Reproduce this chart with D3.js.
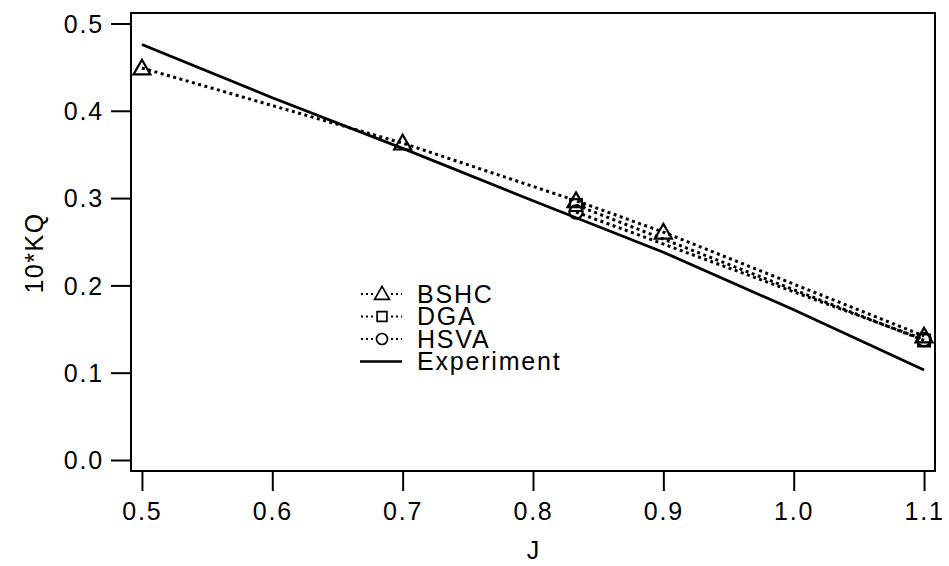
<!DOCTYPE html>
<html>
<head>
<meta charset="utf-8">
<script src="https://cdn.jsdelivr.net/npm/d3@7"></script>
<style>
  body { margin: 0; background: #fff; }
  text { font-family: "Liberation Sans", Arial, sans-serif; fill: #000; }
</style>
</head>
<body>
<div id="chart"></div>
<script>
// values
var bshcJ = [0.5, 0.7, 0.833, 0.9, 1.1];
var bshcKQ = [0.449, 0.363, 0.297, 0.261, 0.142];
var dgaJ = [0.833, 1.1];
var dgaKQ = [0.292, 0.137];
var hsvaJ = [0.833, 1.1];
var hsvaKQ = [0.284, 0.138];
var expJ = [0.5, 0.6, 0.7, 0.8, 0.9, 1.0, 1.1];
var expKQ = [0.476, 0.415, 0.357, 0.297, 0.238, 0.172, 0.103];
var xTicks = [0.5, 0.6, 0.7, 0.8, 0.9, 1.0, 1.1];
var yTicks = [0.0, 0.1, 0.2, 0.3, 0.4, 0.5];
var legendNames = ["BSHC", "DGA", "HSVA", "Experiment"];

var W = 949, H = 566;
var m = {left: 131, top: 13, right: 14, bottom: 95};
var w = W - m.left - m.right, h = H - m.top - m.bottom;

var svg = d3.select("#chart").append("svg")
    .attr("width", W)
    .attr("height", H);

var g = svg.append("g").attr("transform", "translate(" + m.left + "," + m.top + ")");

var x = d3.scaleLinear().domain([0.4916, 1.1084]).range([0, w]);
var y = d3.scaleLinear().domain([-0.0126, 0.512]).range([h, 0]);

// frame
g.append("rect")
    .attr("width", w).attr("height", h)
    .attr("fill", "none").attr("stroke", "#000").attr("stroke-width", 2);

var xAxis = g.append("g")
    .attr("transform", "translate(0," + h + ")")
    .call(d3.axisBottom(x).tickValues(xTicks).tickFormat(d3.format(".1f")).tickSize(20).tickPadding(11));
var yAxis = g.append("g")
    .call(d3.axisLeft(y).tickValues(yTicks).tickFormat(d3.format(".1f")).tickSize(20).tickPadding(7));

[xAxis, yAxis].forEach(function (a) {
  a.select(".domain").remove();
  a.selectAll("line").attr("stroke", "#000").attr("stroke-width", 2);
  a.selectAll("text").attr("font-size", 25).attr("letter-spacing", 1.8)
      .style("font-family", '"Liberation Sans", Arial, sans-serif');
});
yAxis.selectAll("text").attr("dy", "0.35em");

// axis titles
svg.append("text")
    .attr("x", m.left + x(0.8)).attr("y", 559)
    .attr("text-anchor", "middle").attr("font-size", 25).text("J");
svg.append("text")
    .attr("transform", "translate(43,253) rotate(-90)")
    .attr("text-anchor", "middle").attr("font-size", 25).attr("letter-spacing", 1.5).text("10*KQ");

function pts(js, ks) { return js.map(function (d, i) { return [d, ks[i]]; }); }

var line = d3.line().x(function (d) { return x(d[0]); }).y(function (d) { return y(d[1]); });

var dotted = {stroke: "#000", "stroke-width": 3, "stroke-dasharray": "3 3.5", fill: "none"};

function drawLine(data, style) {
  var p = g.append("path").datum(data).attr("d", line);
  Object.keys(style).forEach(function (k) { p.attr(k, style[k]); });
}

drawLine(pts(expJ, expKQ), {stroke: "#000", "stroke-width": 2.8, fill: "none"});
drawLine(pts(hsvaJ, hsvaKQ), dotted);
drawLine(pts(dgaJ, dgaKQ), dotted);
drawLine(pts(bshcJ, bshcKQ), dotted);

var symTri = d3.symbol().type(d3.symbolTriangle).size(125);
var symSq = d3.symbol().type(d3.symbolSquare).size(140);
var symCir = d3.symbol().type(d3.symbolCircle).size(140);

function drawMarks(data, sym, dy) {
  g.selectAll(null).data(data).enter().append("path")
      .attr("d", sym)
      .attr("transform", function (d) { return "translate(" + x(d[0]) + "," + (y(d[1]) + (dy || 0)) + ")"; })
      .attr("fill", "none").attr("stroke", "#000").attr("stroke-width", 2.2);
}
drawMarks(pts(hsvaJ, hsvaKQ), symCir);
drawMarks(pts(dgaJ, dgaKQ), symSq);
drawMarks(pts(bshcJ, bshcKQ), symTri, 1.5);

// legend
var leg = svg.append("g").attr("transform", "translate(360,294)");
var syms = [d3.symbolTriangle, d3.symbolSquare, d3.symbolCircle, null];
legendNames.forEach(function (name, i) {
  var row = leg.append("g").attr("transform", "translate(0," + (i * 22.5) + ")");
  if (syms[i]) {
    row.append("line").attr("x1", 1).attr("x2", 42).attr("y1", 0).attr("y2", 0)
        .attr("stroke", "#000").attr("stroke-width", 2.2).attr("stroke-dasharray", "2 3");
    row.append("rect").attr("x", 13).attr("y", -9).attr("width", 18).attr("height", 18).attr("fill", "#fff");
    row.append("path").attr("d", d3.symbol().type(syms[i]).size(95))
        .attr("transform", "translate(22," + (i === 0 ? 1 : 0) + ")")
        .attr("fill", "none").attr("stroke", "#000").attr("stroke-width", 1.7);
  } else {
    row.append("line").attr("x1", 0).attr("x2", 42).attr("y1", 0).attr("y2", 0)
        .attr("stroke", "#000").attr("stroke-width", 2.4);
  }
  row.append("text").attr("x", 57).attr("y", 0).attr("dy", "0.35em")
      .attr("font-size", 25).attr("letter-spacing", 1.8).text(name);
});
</script>
</body>
</html>
